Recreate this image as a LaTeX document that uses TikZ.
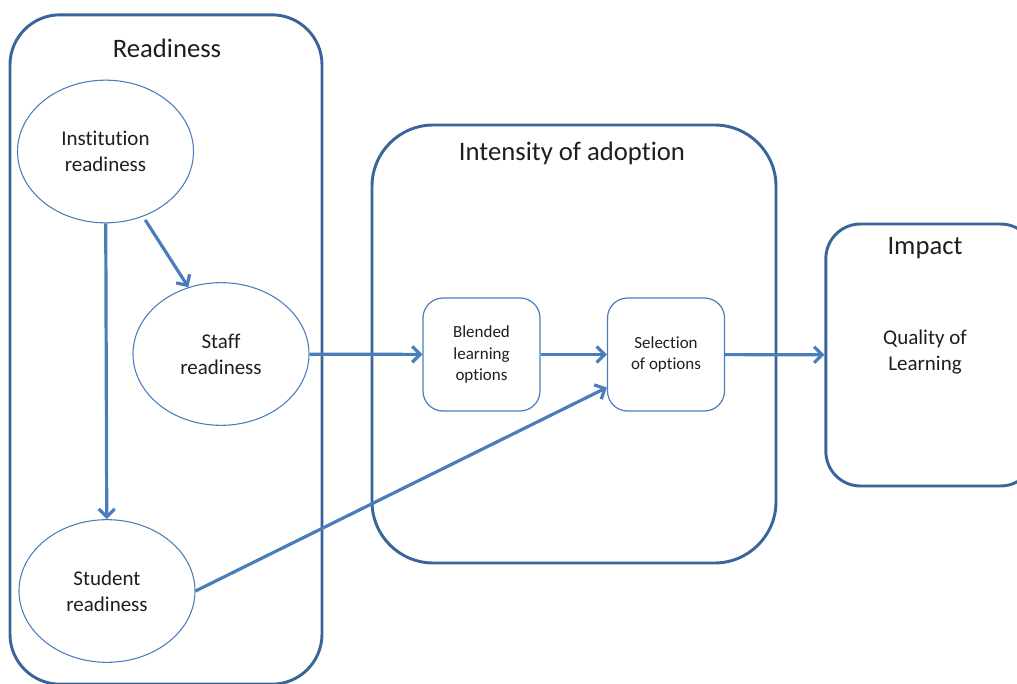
\documentclass[tikz,border=0pt]{standalone}
\usepackage{fontspec}
\setmainfont{Carlito}[Ligatures=NoCommon]
\usepackage{xcolor}
\usetikzlibrary{shapes, arrows.meta}
\definecolor{panelblue}{HTML}{3A6598}
\definecolor{linkblue}{HTML}{4A7EBB}
\definecolor{textgray}{HTML}{1E1E1E}

\begin{document}
\begin{tikzpicture}[x=0.75pt, y=-0.75pt,
		panel/.style={rectangle, draw=panelblue, line width=2.2pt, rounded corners=#1},
		panelhead/.style={text=textgray, font=\fontsize{20}{24}\selectfont},
		readynode/.style={ellipse, draw=linkblue, line width=0.8pt, inner sep=0pt,
			minimum width=132pt, minimum height=107pt, align=center,
			text=textgray, font=\fontsize{15.75}{19.5}\selectfont},
		optionbox/.style={rectangle, draw=linkblue, line width=0.9pt, rounded corners=15pt,
			minimum width=87.75pt, minimum height=84.75pt, align=center,
			text=textgray, font=\fontsize{12.75}{16}\selectfont},
		link/.style={draw=linkblue, line width=2.4pt, -{Straight Barb[length=6pt, width=12pt]}}
	]
				\useasboundingbox (0,0) rectangle (1017,684);
				\clip (0,0) rectangle (1017,684);
				
				\node[panel=37.5pt, minimum width=234pt, minimum height=502pt] (readiness) at (166,349.5) {};
				\node[panel=46pt, minimum width=303pt, minimum height=328.5pt] (intensity) at (574,344) {};
				\node[panel=26pt, minimum width=157pt, minimum height=196.5pt] (impact) at (930.5,355) {};
				
				\node[panelhead] (readinesshead) at (167,48) {Readiness};
				\node[panelhead] (intensityhead) at (572,153) {Intensity of adoption};
				\node[panelhead] (impacthead) at (925,248) {Impact};
				
				\node[readynode] (institution) at (105.5,151.5) {Institution\\readiness};
				\node[readynode] (staff) at (221,354) {Staff\\readiness};
				\node[readynode] (student) at (107,591) {Student\\readiness};
				
				\node[optionbox] (blended) at (481.5,354.5) {Blended\\learning\\options};
				\node[optionbox] (selection) at (666,354.5) {Selection\\of options};
				
				\node[align=center, text=textgray, font=\fontsize{15.75}{19.5}\selectfont] (quality) at (925,352) {Quality of\\Learning};
				
				\draw[link] (institution) -- (student);
				\draw[link, shorten <=3pt] (institution.300) -- (staff.116);
				\draw[link] (staff) -- (blended);
				\draw[link] (blended) -- (selection);
				\draw[link] (selection) -- (impact);
				\draw[link] (student.east) -- ([yshift=-24.75pt]selection.west);
\end{tikzpicture}
\end{document}
